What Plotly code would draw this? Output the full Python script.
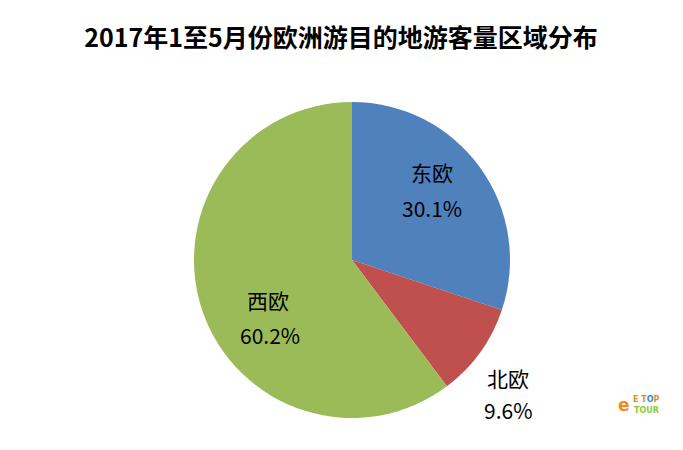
import plotly.graph_objects as go

regions = ["东欧", "北欧", "西欧"]
shares = [30.1, 9.6, 60.2]
colors = ["#4F81BD", "#C0504D", "#9BBB59"]
title = "2017年1至5月份欧洲游目的地游客量区域分布"

W, H = 683, 450
cx, cy, r = 352, 260, 158

fig = go.Figure(go.Pie(
    labels=regions, values=shares, sort=False, direction="clockwise", rotation=0,
    marker=dict(colors=colors, line=dict(width=0)),
    textinfo="none", hoverinfo="label+percent",
    domain=dict(x=[(cx - r) / W, (cx + r) / W], y=[(H - cy - r) / H, (H - cy + r) / H]),
    showlegend=False,
))

# label positions (pixels, top-left origin) for name and value lines
label_pos = [(432, 172, 432, 208), (508, 378, 508, 410), (268, 300, 270, 335)]
font = dict(family="Noto Sans CJK SC, Microsoft YaHei, sans-serif", size=21, color="#000000")
anns = []
for name, val, (nx, ny, vx, vy) in zip(regions, shares, label_pos):
    anns.append(dict(x=nx / W, y=1 - ny / H, xref="paper", yref="paper", text=name,
                     showarrow=False, font=font, xanchor="center", yanchor="middle"))
    anns.append(dict(x=vx / W, y=1 - vy / H, xref="paper", yref="paper", text=f"{val:.1f}%",
                     showarrow=False, font=font, xanchor="center", yanchor="middle"))

# small logo text
anns.append(dict(x=624 / W, y=1 - 405 / H, xref="paper", yref="paper",
                 text="<b>e</b>", showarrow=False, xanchor="center", yanchor="middle",
                 font=dict(family="DejaVu Sans", size=17, color="#F08A1C")))
anns.append(dict(x=646 / W, y=1 - 399 / H, xref="paper", yref="paper",
                 text="<b>E T<span style='color:#2E8BD8'>O</span>P</b>", showarrow=False,
                 xanchor="center", yanchor="middle",
                 font=dict(family="DejaVu Sans", size=8, color="#F08A1C")))
anns.append(dict(x=646 / W, y=1 - 410 / H, xref="paper", yref="paper",
                 text="<b>TOUR</b>", showarrow=False, xanchor="center", yanchor="middle",
                 font=dict(family="DejaVu Sans", size=8, color="#8DC63F")))

fig.update_layout(
    width=W, height=H,
    margin=dict(l=0, r=0, t=0, b=0),
    paper_bgcolor="white", plot_bgcolor="white",
    title=dict(text=f"<b>{title}</b>", x=341 / W, xanchor="center", y=1 - 38 / H, yanchor="middle",
               font=dict(family="Noto Sans CJK SC, Microsoft YaHei, sans-serif", size=25, color="#000000")),
    annotations=anns,
)

fig.write_html("out.html", config={"displayModeBar": False},
               post_script="document.body.style.margin='0';")
